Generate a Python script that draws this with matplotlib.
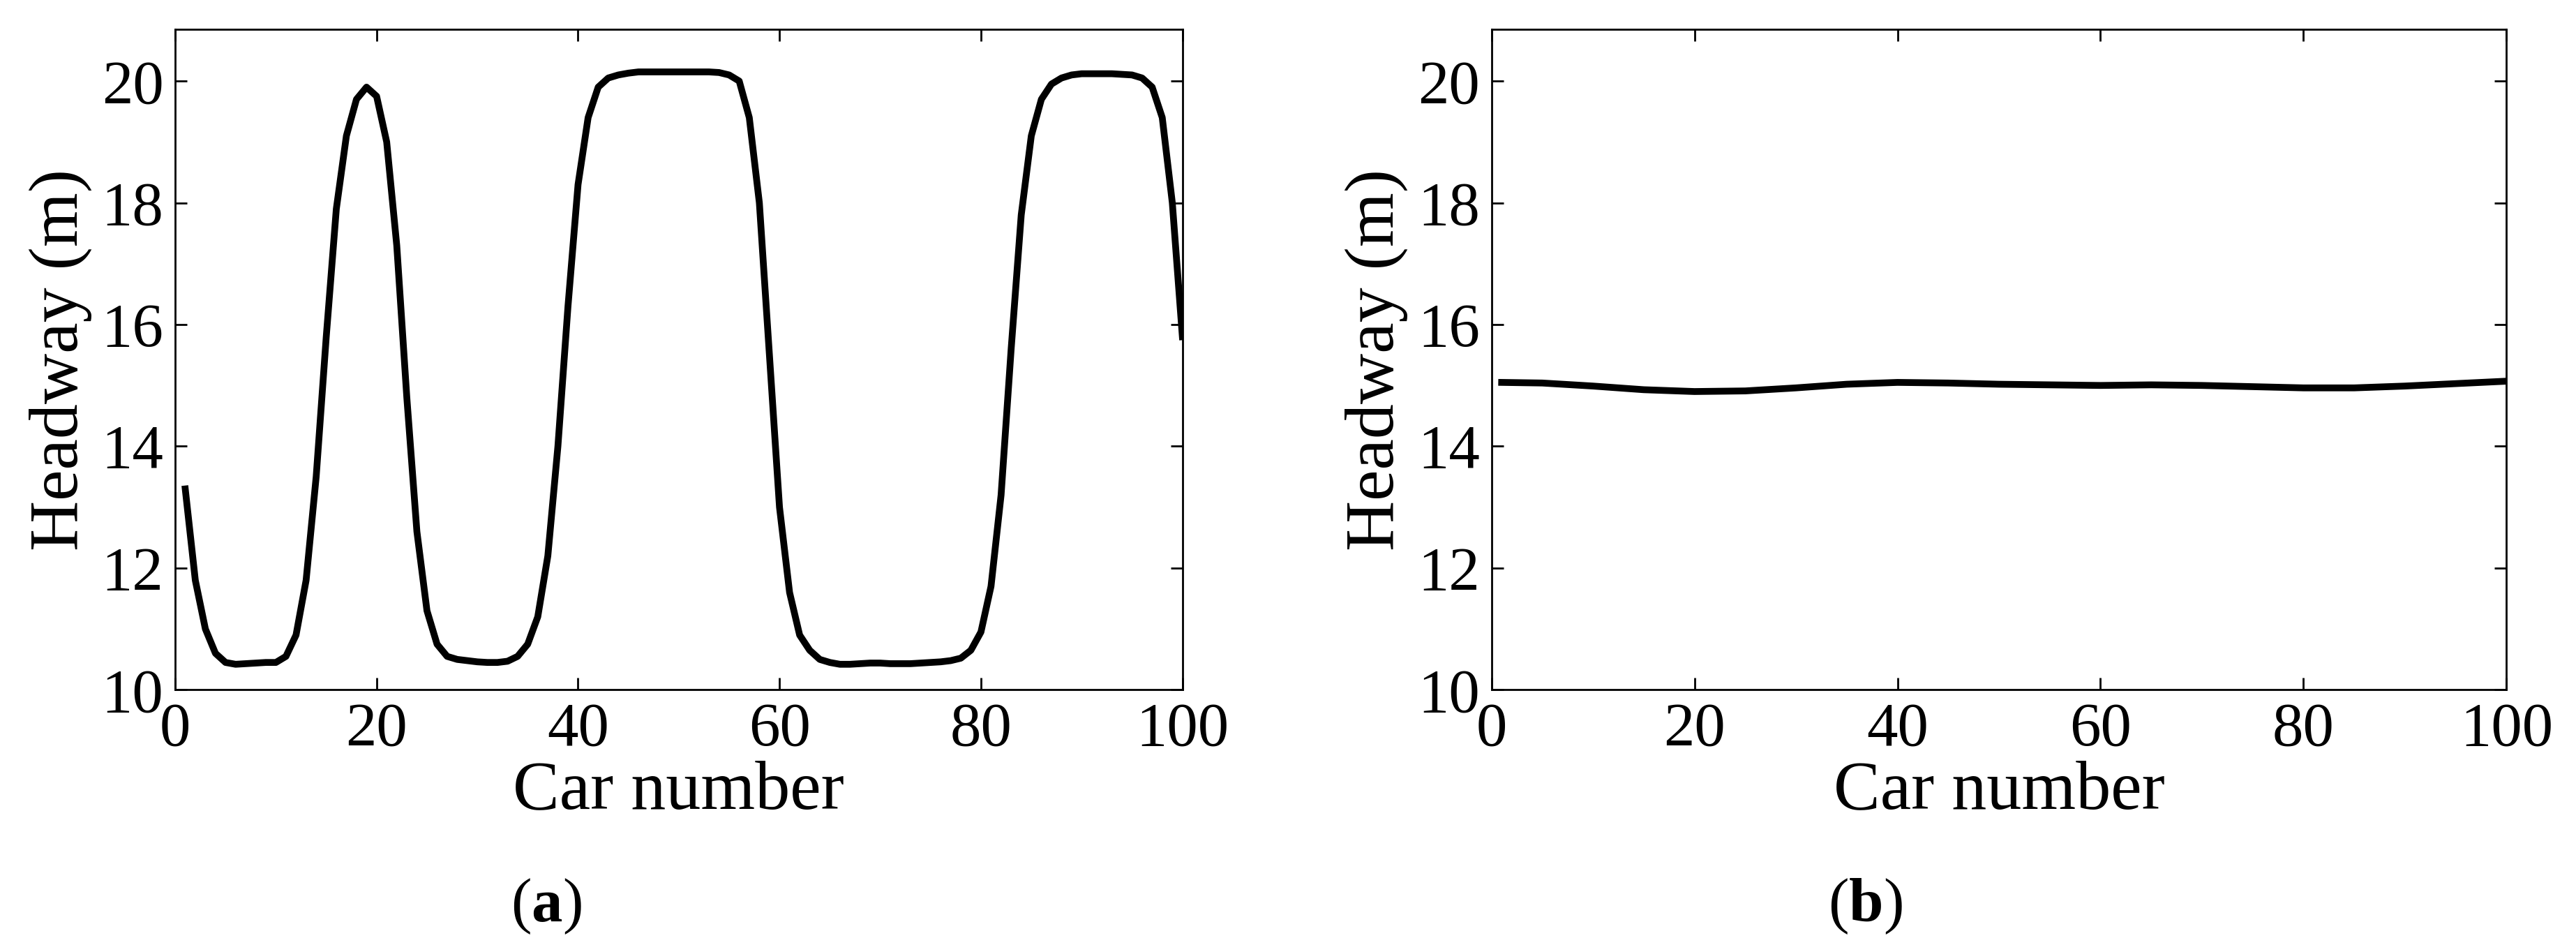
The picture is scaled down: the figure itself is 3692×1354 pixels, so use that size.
import numpy as np
import matplotlib.pyplot as plt

plt.rcParams['font.family'] = ['Liberation Serif', 'DejaVu Serif']
plt.rcParams['mathtext.fontset'] = 'custom'
plt.rcParams['mathtext.rm'] = 'Liberation Serif'
plt.rcParams['mathtext.bf'] = 'Liberation Serif:bold'

# headway of each car, panel (a)
cars_a = np.arange(1, 101)
headway_a = [
    13.3, 11.8, 11.0, 10.6, 10.45, 10.42, 10.43, 10.44, 10.45, 10.45,
    10.55, 10.9, 11.8, 13.5, 15.8, 17.9, 19.1, 19.7, 19.9, 19.75,
    19.0, 17.3, 14.8, 12.6, 11.3, 10.75, 10.55, 10.5, 10.48, 10.46,
    10.45, 10.45, 10.47, 10.55, 10.75, 11.2, 12.2, 14.0, 16.3, 18.3,
    19.4, 19.9, 20.05, 20.1, 20.13, 20.15, 20.15, 20.15, 20.15, 20.15,
    20.15, 20.15, 20.15, 20.14, 20.1, 20.0, 19.4, 18.0, 15.5, 13.0,
    11.6, 10.9, 10.65, 10.5, 10.45, 10.42, 10.42, 10.43, 10.44, 10.44,
    10.43, 10.43, 10.43, 10.44, 10.45, 10.46, 10.48, 10.52, 10.65, 10.95,
    11.7, 13.2, 15.6, 17.8, 19.1, 19.7, 19.95, 20.05, 20.1, 20.12,
    20.12, 20.12, 20.12, 20.11, 20.1, 20.05, 19.9, 19.4, 18.0, 15.8,
]

# headway, panel (b)
cars_b = [1, 5, 10, 15, 20, 25, 30, 35, 40, 45, 50, 55, 60, 65, 70, 75, 80, 85, 90, 95, 100]
headway_b = [15.05, 15.04, 14.99, 14.93, 14.9, 14.91, 14.96, 15.02, 15.05, 15.04, 15.02,
             15.01, 15.0, 15.01, 15.0, 14.98, 14.96, 14.96, 14.99, 15.03, 15.07]

fig = plt.figure(figsize=(36.92, 13.54), dpi=100)
ax1 = fig.add_axes([0.068, 0.270, 0.391, 0.699])
ax2 = fig.add_axes([0.579, 0.270, 0.394, 0.699])

for ax, x, y in [(ax1, cars_a, headway_a), (ax2, cars_b, headway_b)]:
    ax.plot(x, y, color='black', linewidth=7)
    ax.set_xlim(0, 100)
    ax.set_ylim(10, 20.85)
    ax.set_xticks([0, 20, 40, 60, 80, 100])
    ax.set_yticks([10, 12, 14, 16, 18, 20])
    ax.tick_params(direction='in', labelsize=64, length=12, width=2, pad=12,
                   top=True, right=True, labeltop=False, labelright=False)
    for s in ax.spines.values():
        s.set_linewidth(2)
    ax.set_xlabel('Car number', fontsize=72, labelpad=2)
    ax.set_ylabel('Headway (m)', fontsize=72, labelpad=10)

fig.text(0.212, 0.025, r'($\mathbf{a}$)', fontsize=64, ha='center')
fig.text(0.724, 0.025, r'($\mathbf{b}$)', fontsize=64, ha='center')

fig.savefig('out.png', dpi=100)
